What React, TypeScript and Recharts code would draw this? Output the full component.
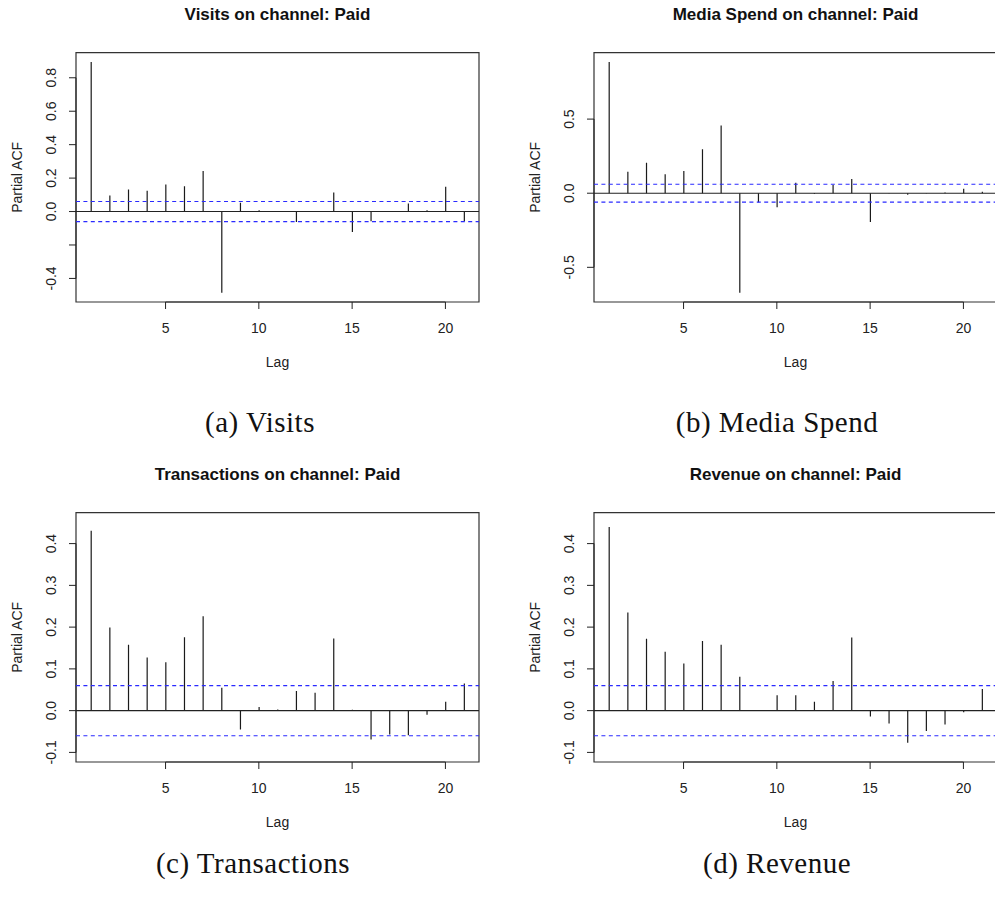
import { ComposedChart, Bar, XAxis, YAxis, ReferenceLine, ReferenceArea } from 'recharts'

// lag axis, shared by all four panels
const lags = [1, 2, 3, 4, 5, 6, 7, 8, 9, 10, 11, 12, 13, 14, 15, 16, 17, 18, 19, 20, 21]
const lagTicks = [5, 10, 15, 20]

// partial autocorrelations per metric, lag 1..21
const visitsPacf = [0.894, 0.096, 0.132, 0.124, 0.162, 0.152, 0.242, -0.485, 0.052, 0.008, 0.002, -0.062, 0.003, 0.114, -0.122, -0.058, 0.003, 0.048, 0.008, 0.148, -0.058]
const spendPacf = [0.885, 0.144, 0.205, 0.128, 0.149, 0.297, 0.457, -0.671, -0.061, -0.094, 0.07, -0.006, 0.056, 0.096, -0.195, 0.002, -0.01, 0.001, 0.005, 0.03, 0.01]
const transactionsPacf = [0.431, 0.199, 0.158, 0.127, 0.116, 0.176, 0.226, 0.055, -0.045, 0.009, 0.003, 0.047, 0.043, 0.173, 0.002, -0.069, -0.057, -0.059, -0.01, 0.021, 0.065]
const revenuePacf = [0.44, 0.235, 0.172, 0.141, 0.113, 0.167, 0.158, 0.081, 0.001, 0.037, 0.037, 0.021, 0.071, 0.175, -0.014, -0.031, -0.077, -0.049, -0.033, -0.004, 0.052]

// 95% bound, +-1.96/sqrt(n)
const ciBound = 0.06

const visitsTicks = [-0.4, -0.2, 0, 0.2, 0.4, 0.6, 0.8]
const visitsTickLabels = ['-0.4', '', '0.0', '0.2', '0.4', '0.6', '0.8']
const spendTicks = [-0.5, 0, 0.5]
const spendTickLabels = ['-0.5', '0.0', '0.5']
const smallTicks = [-0.1, 0, 0.1, 0.2, 0.3, 0.4]
const smallTickLabels = ['-0.1', '0.0', '0.1', '0.2', '0.3', '0.4']

const SANS = '"Liberation Sans", Arial, Helvetica, sans-serif'
const SERIF = '"Liberation Serif", "Times New Roman", serif'
const INK = '#222'

interface PanelProps {
  title: string
  values: number[]
  yDomain: [number, number]
  yTicks: number[]
  yTickLabels: string[]
  left: number
  top: number
}

function PacfPanel({ title, values, yDomain, yTicks, yTickLabels, left, top }: PanelProps) {
  const data = lags.map((lag, i) => ({ lag, pacf: values[i] }))

  const YTick = ({ x, y, payload }: any) => {
    const label = yTickLabels[yTicks.indexOf(payload.value)]
    const bx = x - 12.5
    return (
      <text x={bx} y={y} transform={`rotate(-90, ${bx}, ${y})`} textAnchor="middle"
        fontSize={14} fontFamily={SANS} fill={INK}>
        {label}
      </text>
    )
  }

  const XTick = ({ x, y, payload }: any) => (
    <text x={x} y={y + 24} textAnchor="middle" fontSize={14} fontFamily={SANS} fill={INK}>
      {payload.value}
    </text>
  )

  return (
    <div style={{ position: 'absolute', left, top }}>
      <ComposedChart width={500} height={380} data={data}
        margin={{ top: 52.7, right: 21, bottom: 12, left: 16 }}>
        <XAxis
          dataKey="lag"
          type="number"
          domain={[0.2, 21.8]}
          ticks={lagTicks}
          allowDataOverflow
          height={66}
          axisLine={false}
          tickLine={{ stroke: INK }}
          tickSize={7}
          tickMargin={0}
          tick={<XTick />}
          label={{
            content: ({ viewBox }: any) => (
              <text x={viewBox.x + viewBox.width / 2} y={viewBox.y + 64.7} textAnchor="middle"
                fontSize={14} fontFamily={SANS} fill={INK}>Lag</text>
            ),
          }}
        />
        <YAxis
          type="number"
          domain={yDomain}
          ticks={yTicks}
          allowDataOverflow
          width={60}
          axisLine={false}
          tickLine={{ stroke: INK }}
          tickSize={7}
          tickMargin={0}
          tick={<YTick />}
          label={{
            content: ({ viewBox }: any) => {
              const lx = viewBox.x + 6
              const ly = viewBox.y + viewBox.height / 2
              return (
                <text x={lx} y={ly} transform={`rotate(-90, ${lx}, ${ly})`} textAnchor="middle"
                  fontSize={14} fontFamily={SANS} fill={INK}>Partial ACF</text>
              )
            },
          }}
        />
        {/* plot frame, carries the panel title */}
        <ReferenceArea
          x1={0.2}
          x2={21.8}
          y1={yDomain[0]}
          y2={yDomain[1]}
          fill="none"
          fillOpacity={0}
          stroke="#333"
          strokeWidth={1.2}
          ifOverflow="visible"
          label={{
            content: ({ viewBox }: any) => (
              <text x={viewBox.x + viewBox.width / 2} y={viewBox.y - 32.7} textAnchor="middle"
                fontSize={17} fontWeight="bold" fontFamily={SANS} fill="#111">{title}</text>
            ),
          }}
        />
        {/* R draws the axis line from first to last tick, on top of the frame */}
        <ReferenceLine segment={[{ x: lagTicks[0], y: yDomain[0] }, { x: lagTicks[lagTicks.length - 1], y: yDomain[0] }]}
          stroke="#333" strokeWidth={1.2} ifOverflow="visible" />
        <ReferenceLine segment={[{ x: 0.2, y: yTicks[0] }, { x: 0.2, y: yTicks[yTicks.length - 1] }]}
          stroke="#333" strokeWidth={1.2} ifOverflow="visible" />
        <Bar dataKey="pacf" fill="#1a1a1a" barSize={1.2} isAnimationActive={false} />
        <ReferenceLine y={0} stroke={INK} strokeWidth={1.1} />
        <ReferenceLine y={ciBound} stroke="#2a2aff" strokeDasharray="4 3.4" strokeWidth={1.1} />
        <ReferenceLine y={-ciBound} stroke="#2a2aff" strokeDasharray="4 3.4" strokeWidth={1.1} />
      </ComposedChart>
    </div>
  )
}

const captions = [
  { text: '(a) Visits', x: 260, y: 432 },
  { text: '(b) Media Spend', x: 777, y: 432 },
  { text: '(c) Transactions', x: 253, y: 873 },
  { text: '(d) Revenue', x: 777, y: 873 },
]

export default function App() {
  return (
    <div style={{ position: 'absolute', left: 0, top: 0, width: 995, height: 901, overflow: 'hidden', background: '#fff' }}>
      <PacfPanel title="Visits on channel: Paid" values={visitsPacf} yDomain={[-0.541, 0.95]}
        yTicks={visitsTicks} yTickLabels={visitsTickLabels} left={0} top={0} />
      <PacfPanel title="Media Spend on channel: Paid" values={spendPacf} yDomain={[-0.734, 0.948]}
        yTicks={spendTicks} yTickLabels={spendTickLabels} left={518.3} top={0} />
      <PacfPanel title="Transactions on channel: Paid" values={transactionsPacf} yDomain={[-0.123, 0.474]}
        yTicks={smallTicks} yTickLabels={smallTickLabels} left={0} top={460} />
      <PacfPanel title="Revenue on channel: Paid" values={revenuePacf} yDomain={[-0.123, 0.474]}
        yTicks={smallTicks} yTickLabels={smallTickLabels} left={518.3} top={460} />
      <svg width={995} height={901} style={{ position: 'absolute', left: 0, top: 0, pointerEvents: 'none' }}>
        {captions.map((c) => (
          <text key={c.text} x={c.x} y={c.y} textAnchor="middle" fontSize={29} letterSpacing={0.5}
            fontFamily={SERIF} fill="#111">
            {c.text}
          </text>
        ))}
      </svg>
    </div>
  )
}
